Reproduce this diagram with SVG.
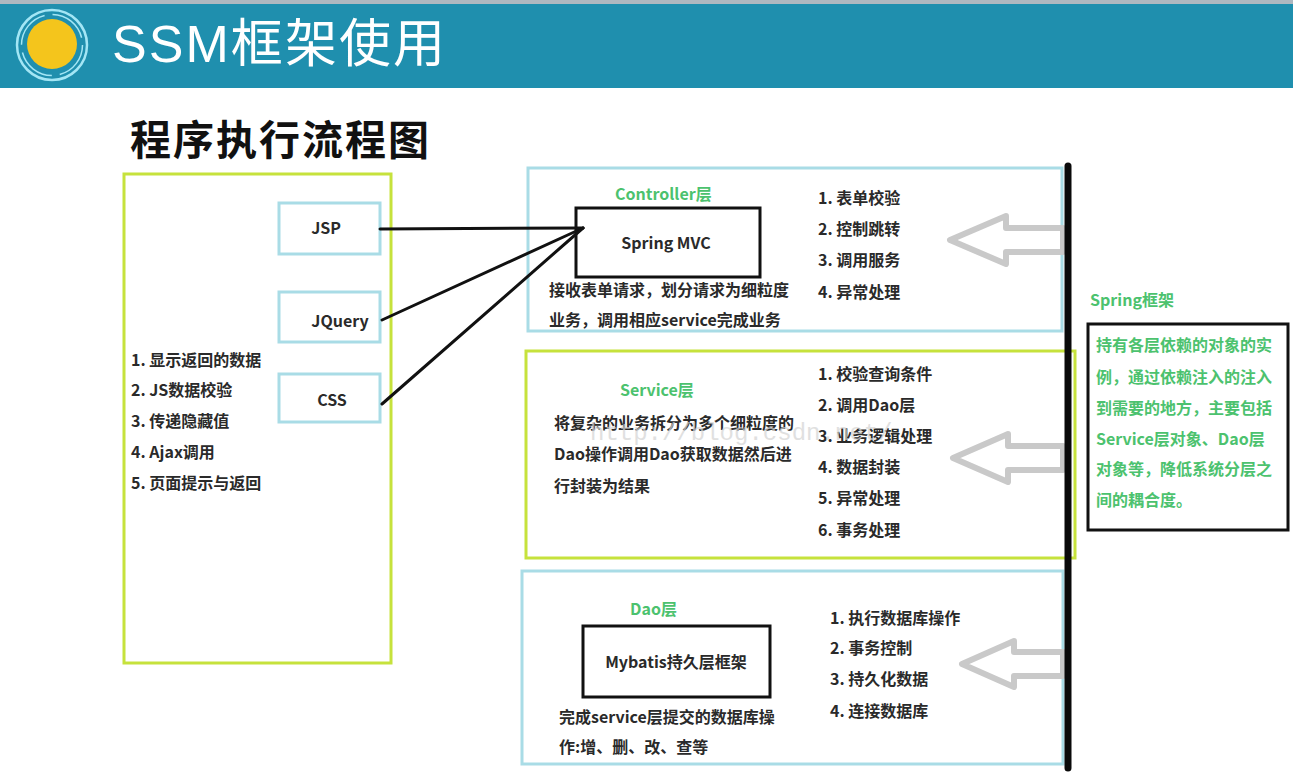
<svg xmlns="http://www.w3.org/2000/svg" width="1293" height="774" viewBox="0 0 1293 774">
<defs>
<style>
.t{font-family:"Noto Sans CJK SC","Liberation Sans",sans-serif;font-size:16px;font-weight:bold;fill:#2a2a2a}
.g{font-family:"Noto Sans CJK SC","Liberation Sans",sans-serif;font-size:16px;font-weight:bold;fill:#4cc26e}
.c{text-anchor:middle}
.lb{fill:#fff;stroke:#a9dce6;stroke-width:3}
.gb{fill:#fff;stroke:#c6e23c;stroke-width:3}
.bb{fill:#fff;stroke:#111;stroke-width:3}
.arr{fill:#fff;stroke:#c9c9c9;stroke-width:6;stroke-linejoin:round}
.conn{stroke:#111;stroke-width:3;fill:none;stroke-linecap:round}
</style>
</defs>
<rect width="1293" height="774" fill="#fff"/>
<g id="header">
<rect x="0" y="0" width="1293" height="4" fill="#aeb8c0"/>
<rect x="0" y="4" width="1293" height="84" fill="#1f8fae"/>
<circle cx="52" cy="45" r="35" fill="none" stroke="#a3e6f5" stroke-width="2.5"/>
<circle cx="52" cy="45" r="30.5" fill="none" stroke="#a3e6f5" stroke-width="1.5" stroke-dasharray="40 8"/>
<circle cx="52" cy="44" r="25" fill="#f4c51c"/>
<text x="112" y="62" font-family="Liberation Sans,Noto Sans CJK SC,sans-serif" font-size="52" fill="#fff" textLength="333">SSM框架使用</text>
</g>
<text x="130" y="155" font-family="Noto Sans CJK SC,sans-serif" font-size="41" font-weight="bold" fill="#111" letter-spacing="2">程序执行流程图</text>

<g id="view-layer">
<rect class="gb" x="124" y="174" width="267" height="489"/>
<text class="t" x="131" y="366">1. 显示返回的数据</text>
<text class="t" x="131" y="396">2. JS数据校验</text>
<text class="t" x="131" y="427">3. 传递隐藏值</text>
<text class="t" x="131" y="458">4. Ajax调用</text>
<text class="t" x="131" y="489">5. 页面提示与返回</text>
</g>
<g id="jsp"><rect class="lb" x="279" y="203" width="101" height="51"/><text class="t c" x="326" y="234">JSP</text></g>
<g id="jquery"><rect class="lb" x="279" y="292" width="101" height="50"/><text class="t c" x="340" y="327">JQuery</text></g>
<g id="css"><rect class="lb" x="279" y="374" width="101" height="48"/><text class="t c" x="332" y="406">CSS</text></g>

<g id="controller">
<rect class="lb" x="528" y="168" width="534" height="163"/>
<text class="g" x="615" y="200">Controller层</text>
<rect class="bb" x="576" y="208" width="184" height="69"/>
<text class="t c" x="666" y="249">Spring MVC</text>
<text class="t" x="549" y="296">接收表单请求，划分请求为细粒度</text>
<text class="t" x="549" y="326">业务，调用相应service完成业务</text>
<text class="t" x="818" y="204">1. 表单校验</text>
<text class="t" x="818" y="235">2. 控制跳转</text>
<text class="t" x="818" y="266">3. 调用服务</text>
<text class="t" x="818" y="298">4. 异常处理</text>
<path class="arr" d="M1063,228 L1006,228 L1006,216 L950,240 L1006,264 L1006,252 L1063,252 Z"/>
</g>

<g id="service">
<rect class="gb" x="526" y="351" width="549" height="207"/>
<text class="g" x="620" y="396">Service层</text>
<text class="t" x="554" y="429">将复杂的业务拆分为多个细粒度的</text>
<text class="t" x="554" y="460">Dao操作调用Dao获取数据然后进</text>
<text class="t" x="554" y="492">行封装为结果</text>
<text class="t" x="818" y="380">1. 校验查询条件</text>
<text class="t" x="818" y="411">2. 调用Dao层</text>
<text class="t" x="818" y="442">3. 业务逻辑处理</text>
<text class="t" x="818" y="473">4. 数据封装</text>
<text class="t" x="818" y="504">5. 异常处理</text>
<text class="t" x="818" y="536">6. 事务处理</text>
<path class="arr" d="M1063,446 L1008,446 L1008,434 L953,458 L1008,482 L1008,470 L1063,470 Z"/>
</g>
<text x="590" y="440" font-family="Liberation Mono,monospace" font-size="24" fill="#d4d4d4" opacity="0.7">http://blog.csdn.net/</text>

<g id="dao">
<rect class="lb" x="522" y="571" width="541" height="193"/>
<text class="g" x="630" y="615">Dao层</text>
<rect class="bb" x="583" y="626" width="187" height="71"/>
<text class="t c" x="676" y="668">Mybatis持久层框架</text>
<text class="t" x="559" y="723">完成service层提交的数据库操</text>
<text class="t" x="559" y="753">作:增、删、改、查等</text>
<text class="t" x="830" y="624">1. 执行数据库操作</text>
<text class="t" x="830" y="654">2. 事务控制</text>
<text class="t" x="830" y="685">3. 持久化数据</text>
<text class="t" x="830" y="717">4. 连接数据库</text>
<path class="arr" d="M1063,652 L1014,652 L1014,641 L962,664 L1014,687 L1014,676 L1063,676 Z"/>
</g>

<g id="spring">
<line x1="1068" y1="166" x2="1068" y2="768" stroke="#0a0a0a" stroke-width="7" stroke-linecap="round"/>
<text class="g" x="1090" y="306">Spring框架</text>
<rect x="1088" y="324" width="200" height="206" fill="#fff" stroke="#111" stroke-width="3"/>
<text class="g" x="1096" y="351">持有各层依赖的对象的实</text>
<text class="g" x="1096" y="383">例，通过依赖注入的注入</text>
<text class="g" x="1096" y="414">到需要的地方，主要包括</text>
<text class="g" x="1096" y="445">Service层对象、Dao层</text>
<text class="g" x="1096" y="475">对象等，降低系统分层之</text>
<text class="g" x="1096" y="506">间的耦合度。</text>
</g>

<g id="connectors">
<path class="conn" d="M380,229 L583,228"/>
<path class="conn" d="M382,320 L583,228"/>
<path class="conn" d="M382,404 L583,228"/>
</g>
</svg>
